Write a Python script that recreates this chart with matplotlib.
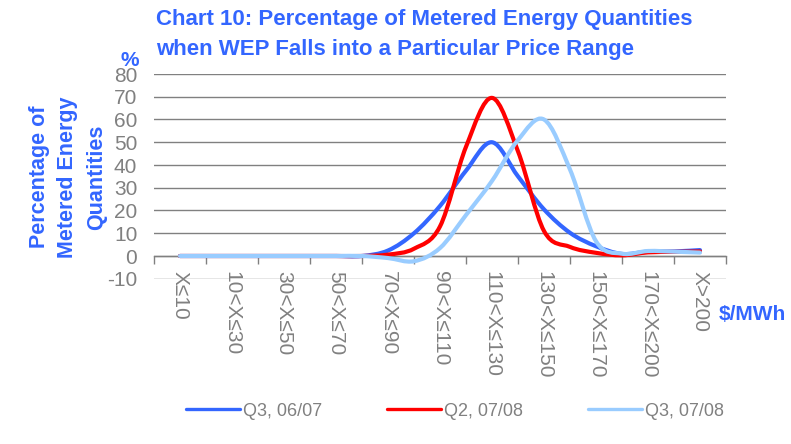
import numpy as np
import matplotlib
matplotlib.use("Agg")
import matplotlib.pyplot as plt
from matplotlib.path import Path
from matplotlib.patches import PathPatch
from matplotlib.lines import Line2D

plt.rcParams['font.family'] = ['Liberation Sans', 'DejaVu Sans']
plt.rcParams['axes.unicode_minus'] = False

# ---- data ----
price_labels = ["X\u226410", "10<X\u226430", "30<X\u226450", "50<X\u226470", "70<X\u226490",
                "90<X\u2264110", "110<X\u2264130", "130<X\u2264150", "150<X\u2264170",
                "170<X\u2264200", "X>200"]
# values at every half-category step (21 points, labels on every other point)
q3_0607 = [0, 0, 0, 0, 0, 0, 0, 0, 2.4, 10.0, 22.0, 37.5, 50.0, 35.0, 20.5, 10.2, 4.3, 0.9, 1.9, 2.0, 2.6]
q2_0708 = [0, 0, 0, 0, 0, 0, 0, 0, 0.6, 3.2, 13.0, 48.0, 69.5, 46.0, 11.0, 4.0, 1.4, 0.3, 1.6, 1.8, 2.0]
q3_0708 = [0, 0, 0, 0, 0, 0, 0, 0, -0.9, -2.3, 3.5, 18.0, 33.0, 51.0, 60.0, 38.0, 6.5, 1.0, 2.2, 1.9, 1.5]
series_names = ["Q3, 06/07", "Q2, 07/08", "Q3, 07/08"]
colors = ["#3366FF", "#FF0000", "#99CCFF"]

BLUE = "#3366FF"
GRAY = "#808080"

W, H = 791, 444
fig = plt.figure(figsize=(W / 100, H / 100), dpi=100)
ax = fig.add_axes([154 / W, 1 - 278.75 / H, (726 - 154) / W, (278.75 - 74) / H])


def smooth_path(xs, ys):
    """Excel-like smoothed line as cubic Bezier segments through the points."""
    pts = np.column_stack([xs, ys]).astype(float)
    n = len(pts)
    verts = [pts[0]]
    codes = [Path.MOVETO]
    for i in range(n - 1):
        p0 = pts[i - 1] if i > 0 else pts[i]
        p1 = pts[i]
        p2 = pts[i + 1]
        p3 = pts[i + 2] if i + 2 < n else pts[i + 1]
        c1 = p1 + (p2 - p0) / 6.0
        c2 = p2 - (p3 - p1) / 6.0
        verts += [c1, c2, p2]
        codes += [Path.CURVE4] * 3
    return Path(verts, codes)


xs = np.arange(len(q3_0607))
for vals, col in zip([q3_0607, q2_0708, q3_0708], colors):
    patch = PathPatch(smooth_path(xs, vals), fill=False, edgecolor=col, lw=3.0,
                      capstyle='round', joinstyle='round', zorder=3)
    ax.add_patch(patch)

ax.set_xlim(-1, 2 * len(price_labels) - 1)
ax.set_ylim(-10, 80)

# y axis
ax.set_yticks(np.arange(-10, 81, 10))
ax.tick_params(axis='y', length=0, pad=12, labelsize=15, labelcolor=GRAY)
ax.yaxis.grid(True, color=GRAY, lw=1.0)
ax.set_axisbelow(True)

# x axis at 0
for s in ['top', 'right', 'left']:
    ax.spines[s].set_visible(False)
ax.spines['bottom'].set_position(('data', 0))
ax.spines['bottom'].set_color(GRAY)
ax.spines['bottom'].set_linewidth(1.0)
ax.set_xticks(np.arange(0, 2 * len(price_labels), 2))
ax.set_xticklabels(price_labels, rotation=-90, va='top', ha='center')
ax.set_xticks(np.arange(-1, 2 * len(price_labels), 2), minor=True)
ax.tick_params(axis='x', which='major', length=0, pad=11, labelsize=15, labelcolor=GRAY)
ax.tick_params(axis='x', which='minor', length=6, width=1, color=GRAY, direction='out')

# titles
fig.text(156 / W, 1 - 20 / H, "Chart 10: Percentage of Metered Energy Quantities",
         color=BLUE, fontsize=16, fontweight='bold', ha='left', va='center')
fig.text(156 / W, 1 - 50 / H, "when WEP Falls into a Particular Price Range",
         color=BLUE, fontsize=16, fontweight='bold', ha='left', va='center')
fig.text(68 / W, 1 - 177 / H, "Percentage of\nMetered Energy\nQuantities",
         color=BLUE, fontsize=15.5, fontweight='bold', rotation=90,
         ha='center', va='center', multialignment='center', linespacing=1.45)
fig.text(130 / W, 1 - 61 / H, "%", color=BLUE, fontsize=15, fontweight='bold',
         ha='center', va='center')
fig.text(752 / W, 1 - 314 / H, "$/MWh", color=BLUE, fontsize=15, fontweight='bold',
         ha='center', va='center')

# legend
handles = [Line2D([0], [0], color=c, lw=2.4, solid_capstyle='round') for c in colors]
leg = fig.legend(handles, series_names, loc='center', bbox_to_anchor=(455 / W, 1 - 411 / H),
                 ncol=3, frameon=False, fontsize=13, handlelength=3.0, handletextpad=0.15,
                 columnspacing=3.6)
for t in leg.get_texts():
    t.set_color(GRAY)

fig.savefig("out.png", dpi=100)
